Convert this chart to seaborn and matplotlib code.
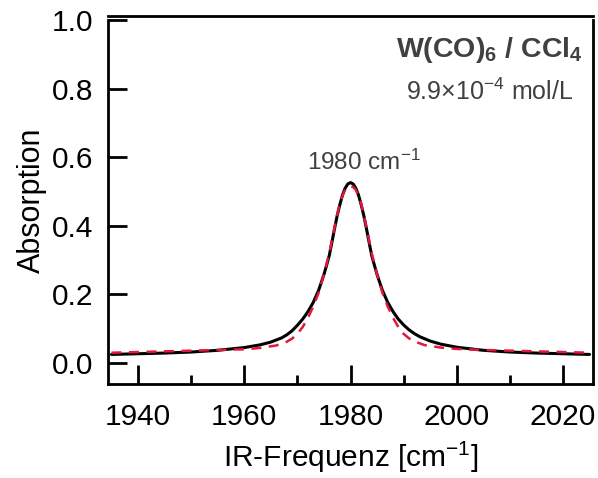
import matplotlib
matplotlib.use("Agg")
import matplotlib.pyplot as plt
import numpy as np
import pandas as pd
import seaborn as sns
from matplotlib.ticker import MultipleLocator, FormatStrFormatter

# ---------------- data ----------------
wn_meas = [1935, 1940, 1945, 1950, 1955, 1960, 1963, 1965, 1967, 1968, 1969,
           1970, 1971, 1972, 1973, 1974, 1975, 1975.5, 1976, 1976.5, 1977,
           1977.5, 1978, 1978.5, 1979, 1979.5, 1980, 1980.5, 1981, 1981.5,
           1982, 1982.5, 1983, 1983.5, 1984, 1984.5, 1985, 1986, 1987, 1988,
           1989, 1990, 1991, 1992, 1993, 1995, 1997, 2000, 2005, 2010, 2015,
           2020, 2025]
abs_meas = [0.025, 0.027, 0.029, 0.032, 0.037, 0.045, 0.053, 0.061, 0.073,
            0.082, 0.094, 0.110, 0.128, 0.150, 0.177, 0.212, 0.258, 0.285,
            0.313, 0.352, 0.392, 0.430, 0.462, 0.490, 0.510, 0.522, 0.526,
            0.522, 0.510, 0.490, 0.462, 0.430, 0.392, 0.352, 0.313, 0.285,
            0.258, 0.212, 0.177, 0.150, 0.128, 0.111, 0.097, 0.086, 0.077,
            0.064, 0.055, 0.046, 0.037, 0.032, 0.029, 0.027, 0.025]

wn_fit = [1935, 1940, 1945, 1950, 1955, 1960, 1963, 1966, 1968, 1969, 1970,
          1971, 1972, 1973, 1974, 1975, 1976, 1977, 1977.5, 1978, 1978.5,
          1979, 1979.5, 1980, 1980.5, 1981, 1981.5, 1982, 1982.5, 1983, 1984,
          1985, 1986, 1987, 1988, 1989, 1990, 1991, 1992, 1994, 1997, 2000,
          2005, 2010, 2015, 2020, 2025]
abs_fit = [0.030, 0.032, 0.034, 0.036, 0.038, 0.040, 0.044, 0.051, 0.062,
           0.071, 0.085, 0.105, 0.132, 0.165, 0.205, 0.258, 0.320, 0.395,
           0.432, 0.465, 0.488, 0.505, 0.513, 0.515, 0.513, 0.505, 0.488,
           0.465, 0.432, 0.395, 0.320, 0.258, 0.205, 0.165, 0.132, 0.105,
           0.085, 0.072, 0.063, 0.052, 0.045, 0.041, 0.038, 0.036, 0.034,
           0.032, 0.030]

y_ticks = [0.0, 0.2, 0.4, 0.6, 0.8, 1.0]
x_ticks = [1940, 1960, 1980, 2000, 2020]

title_text = r"W(CO)$_\mathbf{6}$ / CCl$_\mathbf{4}$"
conc_text = r"9.9×10$^{-4}$ mol/L"
peak_text = r"1980 cm$^{-1}$"
xlabel_text = r"IR-Frequenz [cm$^{-1}$]"
ylabel_text = "Absorption"

# ---------------- style ----------------
sns.set_theme(style="white")
plt.rcParams["font.family"] = ["Liberation Sans", "DejaVu Sans"]
plt.rcParams.update({
    "mathtext.fontset": "custom",
    "mathtext.rm": "Liberation Sans",
    "mathtext.sf": "Liberation Sans",
    "mathtext.it": "Liberation Sans:italic",
    "mathtext.bf": "Liberation Sans:bold",
})

W, H = 598, 478
fig = plt.figure(figsize=(W / 100, H / 100), dpi=100)
ax = fig.add_axes([108 / W, 94 / H, 485 / W, 368 / H])

meas = pd.DataFrame({"wn": wn_meas, "A": abs_meas})
fit = pd.DataFrame({"wn": wn_fit, "A": abs_fit})

sns.lineplot(data=meas, x="wn", y="A", ax=ax, color="black", lw=2.2,
             errorbar=None)
sns.lineplot(data=fit, x="wn", y="A", ax=ax, color="#e3173e", lw=1.8,
             errorbar=None)
ax.lines[-1].set_dashes([4, 3])

ymin, ymax = -0.0612, 1.0117
ax.set_xlim(1934.35, 2025.65)
ax.set_ylim(ymin, ymax)

ax.set_xticks(x_ticks)
ax.xaxis.set_minor_locator(MultipleLocator(10))
ax.set_yticks(y_ticks)
ax.yaxis.set_major_formatter(FormatStrFormatter("%.1f"))

ax.tick_params(axis="both", which="major", direction="in", length=13.5,
               width=2, labelsize=21.5, color="black", labelcolor="black")
ax.tick_params(axis="x", which="major", bottom=True, pad=14)
ax.tick_params(axis="y", which="major", left=True, pad=10.5)
ax.tick_params(axis="x", which="minor", direction="in", bottom=True,
               length=6.5, width=2, color="black")

for s in ax.spines.values():
    s.set_visible(True)
    s.set_color("black")
    s.set_linewidth(2)
ax.spines["left"].set_bounds(ymin, 1.0)
ax.spines["right"].set_bounds(ymin, 1.0)

ax.set_xlabel(xlabel_text, fontsize=21.5, color="black", labelpad=6)
ax.set_ylabel(ylabel_text, fontsize=22, color="black")
ax.yaxis.set_label_coords(-0.126, 0.5)

gray = "#404040"
fig.text(583 / W, 1 - 57 / H, title_text, ha="right", va="baseline",
         fontsize=20.5, fontweight="bold", color=gray)
fig.text(573 / W, 1 - 100 / H, conc_text, ha="right", va="baseline",
         fontsize=18, color=gray)
fig.text(307 / W, 1 - 170 / H, peak_text, ha="left", va="baseline",
         fontsize=17.5, color=gray)

fig.savefig("out.png", dpi=100)
